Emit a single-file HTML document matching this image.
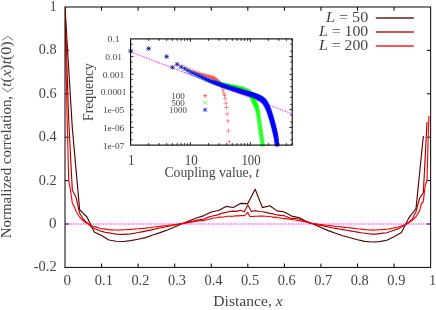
<!DOCTYPE html>
<html><head><meta charset="utf-8"><title>Normalized correlation</title>
<style>
html,body{margin:0;padding:0;background:#fff;}
body{width:436px;height:310px;overflow:hidden;font-family:"Liberation Serif",serif;}
svg{display:block;will-change:transform;}
</style></head><body>
<svg width="436" height="310" viewBox="0 0 436 310">
<defs><filter id="nf" x="0" y="0" width="436" height="310" filterUnits="userSpaceOnUse"><feOffset dx="0" dy="0"/></filter></defs>
<rect x="0" y="0" width="436" height="310" fill="#fff"/>
<path d="M101.56 267.4v-3.8M101.56 7v3.8M138.13 267.4v-3.8M138.13 7v3.8M174.69 267.4v-3.8M174.69 7v3.8M211.26 267.4v-3.8M211.26 7v3.8M247.82 267.4v-3.8M247.82 7v3.8M284.39 267.4v-3.8M284.39 7v3.8M320.95 267.4v-3.8M320.95 7v3.8M357.52 267.4v-3.8M357.52 7v3.8M394.08 267.4v-3.8M394.08 7v3.8M65 50.4h3.8M430.65 50.4h-3.8M65 93.8h3.8M430.65 93.8h-3.8M65 137.2h3.8M430.65 137.2h-3.8M65 180.6h3.8M430.65 180.6h-3.8M65 224h3.8M430.65 224h-3.8" stroke="#000" stroke-width="1" fill="none"/>
<path d="M65.5 224 H430.65" stroke="#ff00ff" stroke-width="1.15" stroke-dasharray="1.3 1.2" fill="none"/>
<clipPath id="mc"><rect x="65" y="7" width="365.65" height="260.4"/></clipPath>
<g clip-path="url(#mc)">
<polyline points="65,7.2 72.31,128 79.63,209.6 86.94,217 94.25,232 101.56,235.6 108.88,240 116.19,241.2 123.5,241.5 130.82,240.6 138.13,239.2 145.44,237.6 152.76,235 160.07,232.6 167.38,230 174.69,227 182.01,223.7 189.32,220.8 196.63,218 203.95,215.6 211.26,212 218.57,210.5 225.89,206.4 233.2,207.5 240.51,203.4 247.82,203.6 255.14,189.2 262.45,207.6 269.76,205.8 277.08,210.9 284.39,212 291.7,216.1 299.02,217.5 306.33,221.4 313.64,224.2 320.95,227.5 328.27,230.6 335.58,233.3 342.89,235.7 350.21,237.8 357.52,239.7 364.83,241.4 372.15,242 379.46,241.6 386.77,240.2 394.08,236.8 401.4,232.6 408.71,218.2 416.02,208.5 423.34,136" fill="none" stroke="#550000" stroke-width="1.15" stroke-linejoin="round" />
<polyline points="65,7.2 68.66,118.67 72.31,190.03 75.97,197.14 79.63,213.04 83.28,219.27 86.94,222.74 90.6,226.2 94.25,228.57 97.91,230.01 101.56,231.43 105.22,232.2 108.88,232.88 112.53,233.48 116.19,234.08 119.85,234.34 123.5,234.39 127.16,234.18 130.82,233.93 134.47,233.27 138.13,232.55 141.79,231.83 145.44,231.11 149.1,230.34 152.76,229.58 156.41,228.81 160.07,228.05 163.73,227.28 167.38,226.52 171.04,225.75 174.69,224.98 178.35,224.22 182.01,223.45 185.66,222.68 189.32,221.91 192.98,221.14 196.63,220.36 200.29,219.64 203.95,219.03 207.6,217.41 211.26,216.26 214.92,215.45 218.57,214.65 222.23,213.08 225.89,212.35 229.54,211.45 233.2,211.17 236.86,211.39 240.51,210.2 244.17,211.75 247.82,204.91 251.48,211.56 255.14,210.65 258.79,211.49 262.45,211.77 266.11,212.36 269.76,213.41 273.42,213.93 277.08,214.93 280.73,215.35 284.39,215.75 288.05,217.25 291.7,218.52 295.36,218.42 299.02,218.95 302.67,220.56 306.33,221.83 309.99,223 313.64,223.79 317.3,224.59 320.95,225.39 324.61,226.18 328.27,226.98 331.92,227.77 335.58,228.43 339.24,229.05 342.89,229.68 346.55,230.3 350.21,230.93 353.86,231.55 357.52,232.18 361.18,232.75 364.83,233.23 368.49,233.71 372.15,234.18 375.8,234.14 379.46,233.66 383.12,233.18 386.77,232.7 390.43,231.56 394.08,230.27 397.74,228.88 401.4,227.08 405.05,225.08 408.71,222.4 412.37,218.83 416.02,211.41 419.68,198 423.34,192.8 426.99,122.13" fill="none" stroke="#aa0000" stroke-width="1.15" stroke-linejoin="round" />
<polyline points="65,7.2 66.83,106.14 68.66,180.24 70.48,189.93 72.31,203.02 74.14,206.39 75.97,211.22 77.8,214 79.63,217.02 81.45,219.04 83.28,220.71 85.11,222.23 86.94,223.26 88.77,224.29 90.6,225.32 92.42,226 94.25,226.56 96.08,227.12 97.91,227.67 99.74,228.23 101.56,228.58 103.39,228.85 105.22,229.11 107.05,229.37 108.88,229.64 110.71,229.83 112.53,229.9 114.36,229.97 116.19,230.05 118.02,230.07 119.85,229.98 121.68,229.89 123.5,229.8 125.33,229.7 127.16,229.61 128.99,229.52 130.82,229.42 132.65,229.28 134.47,229.12 136.3,228.96 138.13,228.8 139.96,228.64 141.79,228.48 143.61,228.32 145.44,228.15 147.27,227.92 149.1,227.7 150.93,227.48 152.76,227.26 154.58,227.03 156.41,226.81 158.24,226.59 160.07,226.37 161.9,226.14 163.73,225.92 165.55,225.7 167.38,225.48 169.21,225.26 171.04,225.03 172.87,224.81 174.69,224.59 176.52,224.37 178.35,224.14 180.18,223.92 182.01,223.7 183.84,223.38 185.66,223.07 187.49,222.75 189.32,222.44 191.15,222.12 192.98,221.81 194.81,221.49 196.63,221.18 198.46,220.86 200.29,220.5 202.12,220.61 203.95,220.41 205.78,219.94 207.6,219.68 209.43,219.25 211.26,218.58 213.09,218.01 214.92,218.05 216.74,217.77 218.57,217.42 220.4,217.12 222.23,217 224.06,216.81 225.89,216.46 227.71,216.27 229.54,216.28 231.37,216.44 233.2,216.2 235.03,215.93 236.86,215.85 238.68,215.87 240.51,215.64 242.34,215.56 244.17,215.66 246,214.47 247.82,212.48 249.65,216.31 251.48,216.45 253.31,216.4 255.14,216.3 256.97,216.23 258.79,215.97 260.62,216.12 262.45,215.97 264.28,216.19 266.11,216.23 267.94,216.49 269.76,216.45 271.59,216.74 273.42,217.37 275.25,217.11 277.08,217.57 278.91,217.8 280.73,218.13 282.56,218.26 284.39,218.61 286.22,218.57 288.05,218.85 289.87,219.2 291.7,219.45 293.53,219.7 295.36,220 297.19,220.53 299.02,220.6 300.84,221.06 302.67,221.34 304.5,221.62 306.33,222.05 308.16,222.52 309.99,223 311.81,223.29 313.64,223.58 315.47,223.87 317.3,224.16 319.13,224.44 320.95,224.64 322.78,224.85 324.61,225.05 326.44,225.26 328.27,225.47 330.1,225.67 331.92,225.88 333.75,226.08 335.58,226.29 337.41,226.49 339.24,226.7 341.07,226.91 342.89,227.11 344.72,227.32 346.55,227.52 348.38,227.73 350.21,227.93 352.04,228.14 353.86,228.35 355.69,228.55 357.52,228.76 359.35,228.96 361.18,229.17 363,229.38 364.83,229.58 366.66,229.71 368.49,229.84 370.32,229.96 372.15,230.09 373.97,230.19 375.8,230.05 377.63,229.92 379.46,229.79 381.29,229.65 383.12,229.52 384.94,229.39 386.77,229.25 388.6,228.97 390.43,228.59 392.26,228.21 394.08,227.82 395.91,227.44 397.74,227.06 399.57,226.54 401.4,225.92 403.23,225.31 405.05,224.69 406.88,224.04 408.71,222.78 410.54,221.52 412.37,220.24 414.2,218.51 416.02,216.76 417.85,213.6 419.68,210.4 421.51,203.49 423.34,201.5 425.17,185.54 426.99,180.42 428.82,116" fill="none" stroke="#ff0000" stroke-width="1.15" stroke-linejoin="round" />
</g>
<rect x="65" y="7" width="365.65" height="260.4" stroke="#000" stroke-width="1" fill="none"/>
<rect x="375.8" y="17" width="38.1" height="2" fill="#550000" fill-opacity="0.66"/>
<rect x="375.8" y="31" width="38.1" height="2" fill="#aa0000" fill-opacity="0.66"/>
<rect x="375.8" y="45" width="38.1" height="2" fill="#ff0000" fill-opacity="0.66"/>
<rect x="130.6" y="38.9" width="161.6" height="106.2" fill="#fff" stroke="none"/>
<path d="M130.6 51.9 L292.2 113.95" stroke="#ff00ff" stroke-width="0.8" stroke-dasharray="1.8 0.9" fill="none"/>
<clipPath id="ic"><rect x="127.6" y="38.9" width="164.6" height="107.7"/></clipPath>
<g clip-path="url(#ic)" fill="none">
<path d="M128.4 51h4.4M130.6 48.8v4.4M146.42 48.6h4.4M148.62 46.4v4.4M164.45 56.6h4.4M166.65 54.4v4.4M170.25 67.3h4.4M172.45 65.1v4.4M174.99 64.3h4.4M177.19 62.1v4.4M179 65.91h4.4M181.2 63.71v4.4M182.47 67.63h4.4M184.67 65.43v4.4M185.53 69.01h4.4M187.73 66.81v4.4M188.27 70.15h4.4M190.47 67.95v4.4M190.75 71.13h4.4M192.95 68.93v4.4M193.02 71.98h4.4M195.22 69.78v4.4M195.1 72.73h4.4M197.3 70.53v4.4M197.02 73.38h4.4M199.22 71.18v4.4M198.82 73.97h4.4M201.02 71.77v4.4M200.5 74.5h4.4M202.7 72.3v4.4M202.07 74.98h4.4M204.27 72.78v4.4M203.56 75.42h4.4M205.76 73.22v4.4M204.96 75.8h4.4M207.16 73.6v4.4M206.3 76.16h4.4M208.5 73.96v4.4M207.57 76.53h4.4M209.77 74.33v4.4M208.78 76.9h4.4M210.98 74.7v4.4M209.93 77.26h4.4M212.13 75.06v4.4M211.04 77.68h4.4M213.24 75.48v4.4M212.1 78.22h4.4M214.3 76.02v4.4M213.12 78.89h4.4M215.32 76.69v4.4M214.1 79.64h4.4M216.3 77.44v4.4M215.05 80.41h4.4M217.25 78.21v4.4M215.96 81.22h4.4M218.16 79.02v4.4M216.84 82.12h4.4M219.04 79.92v4.4M217.69 83.12h4.4M219.89 80.92v4.4M218.52 84.2h4.4M220.72 82v4.4M219.32 85.51h4.4M221.52 83.31v4.4M220.1 87.33h4.4M222.3 85.13v4.4M220.85 90.12h4.4M223.05 87.92v4.4M221.58 92.94h4.4M223.78 90.74v4.4M222.3 95.48h4.4M224.5 93.28v4.4M222.99 98.64h4.4M225.19 96.44v4.4M223.66 103.26h4.4M225.86 101.06v4.4M224.32 107.5h4.4M226.52 105.3v4.4M224.96 114.02h4.4M227.16 111.82v4.4M225.59 120.99h4.4M227.79 118.79v4.4M226.2 130.86h4.4M228.4 128.66v4.4M226.8 141.72h4.4M229 139.52v4.4" stroke="#ff0000" stroke-width="0.42"/>
<path d="M129 49.4l3.2 3.2M129 52.6l3.2 -3.2M147.02 47l3.2 3.2M147.02 50.2l3.2 -3.2M165.05 55l3.2 3.2M165.05 58.2l3.2 -3.2M170.85 65.7l3.2 3.2M170.85 68.9l3.2 -3.2M175.59 62.7l3.2 3.2M175.59 65.9l3.2 -3.2M179.6 65.6l3.2 3.2M179.6 68.8l3.2 -3.2M183.07 67.36l3.2 3.2M183.07 70.56l3.2 -3.2M186.13 68.89l3.2 3.2M186.13 72.09l3.2 -3.2M188.87 70.23l3.2 3.2M188.87 73.43l3.2 -3.2M191.35 71.43l3.2 3.2M191.35 74.63l3.2 -3.2M193.62 72.5l3.2 3.2M193.62 75.7l3.2 -3.2M195.7 73.5l3.2 3.2M195.7 76.7l3.2 -3.2M197.62 74.43l3.2 3.2M197.62 77.63l3.2 -3.2M199.42 75.29l3.2 3.2M199.42 78.49l3.2 -3.2M201.1 76.08l3.2 3.2M201.1 79.28l3.2 -3.2M202.67 76.81l3.2 3.2M202.67 80.01l3.2 -3.2M204.16 77.47l3.2 3.2M204.16 80.67l3.2 -3.2M205.56 78.08l3.2 3.2M205.56 81.28l3.2 -3.2M206.9 78.62l3.2 3.2M206.9 81.82l3.2 -3.2M208.17 79.11l3.2 3.2M208.17 82.31l3.2 -3.2M209.38 79.56l3.2 3.2M209.38 82.76l3.2 -3.2M210.53 79.97l3.2 3.2M210.53 83.17l3.2 -3.2M211.64 80.35l3.2 3.2M211.64 83.55l3.2 -3.2M212.7 80.71l3.2 3.2M212.7 83.91l3.2 -3.2M213.32 80.64l4 4M213.32 84.64l4 -4M214.3 80.95l4 4M214.3 84.95l4 -4M215.25 81.23l4 4M215.25 85.23l4 -4M216.16 81.5l4 4M216.16 85.5l4 -4M217.04 81.74l4 4M217.04 85.74l4 -4M217.89 81.97l4 4M217.89 85.97l4 -4M218.72 82.18l4 4M218.72 86.18l4 -4M219.52 82.38l4 4M219.52 86.38l4 -4M220.3 82.55l4 4M220.3 86.55l4 -4M221.05 82.72l4 4M221.05 86.72l4 -4M221.78 82.88l4 4M221.78 86.88l4 -4M222.5 83.02l4 4M222.5 87.02l4 -4M223.19 83.17l4 4M223.19 87.17l4 -4M223.86 83.31l4 4M223.86 87.31l4 -4M224.52 83.44l4 4M224.52 87.44l4 -4M225.16 83.57l4 4M225.16 87.57l4 -4M225.79 83.71l4 4M225.79 87.71l4 -4M226.4 83.84l4 4M226.4 87.84l4 -4M227 83.97l4 4M227 87.97l4 -4M227.59 84.1l4 4M227.59 88.1l4 -4M228.16 84.24l4 4M228.16 88.24l4 -4M228.72 84.37l4 4M228.72 88.37l4 -4M229.26 84.49l4 4M229.26 88.49l4 -4M229.8 84.61l4 4M229.8 88.61l4 -4M230.33 84.73l4 4M230.33 88.73l4 -4M230.84 84.84l4 4M230.84 88.84l4 -4M231.35 84.95l4 4M231.35 88.95l4 -4M231.84 85.06l4 4M231.84 89.06l4 -4M232.33 85.17l4 4M232.33 89.17l4 -4M232.8 85.27l4 4M232.8 89.27l4 -4M233.27 85.37l4 4M233.27 89.37l4 -4M233.73 85.48l4 4M233.73 89.48l4 -4M234.18 85.58l4 4M234.18 89.58l4 -4M234.63 85.68l4 4M234.63 89.68l4 -4M235.07 85.78l4 4M235.07 89.78l4 -4M235.5 85.89l4 4M235.5 89.89l4 -4M235.92 85.99l4 4M235.92 89.99l4 -4M236.33 86.1l4 4M236.33 90.1l4 -4M236.74 86.2l4 4M236.74 90.2l4 -4M237.15 86.31l4 4M237.15 90.31l4 -4M237.54 86.41l4 4M237.54 90.41l4 -4M237.94 86.52l4 4M237.94 90.52l4 -4M238.32 86.63l4 4M238.32 90.63l4 -4M238.7 86.75l4 4M238.7 90.75l4 -4M239.07 86.86l4 4M239.07 90.86l4 -4M239.44 86.98l4 4M239.44 90.98l4 -4M239.81 87.09l4 4M239.81 91.09l4 -4M240.17 87.21l4 4M240.17 91.21l4 -4M240.52 87.33l4 4M240.52 91.33l4 -4M240.87 87.45l4 4M240.87 91.45l4 -4M241.21 87.58l4 4M241.21 91.58l4 -4M241.55 87.71l4 4M241.55 91.71l4 -4M241.89 87.83l4 4M241.89 91.83l4 -4M242.22 87.97l4 4M242.22 91.97l4 -4M242.55 88.1l4 4M242.55 92.1l4 -4M242.87 88.24l4 4M242.87 92.24l4 -4M243.19 88.38l4 4M243.19 92.38l4 -4M243.5 88.52l4 4M243.5 92.52l4 -4M243.82 88.67l4 4M243.82 92.67l4 -4M244.12 88.83l4 4M244.12 92.83l4 -4M244.43 88.99l4 4M244.43 92.99l4 -4M244.73 89.15l4 4M244.73 93.15l4 -4M245.03 89.33l4 4M245.03 93.33l4 -4M245.32 89.51l4 4M245.32 93.51l4 -4M245.61 89.69l4 4M245.61 93.69l4 -4M245.9 89.88l4 4M245.9 93.88l4 -4M246.18 90.08l4 4M246.18 94.08l4 -4M246.46 90.29l4 4M246.46 94.29l4 -4M246.74 90.5l4 4M246.74 94.5l4 -4M247.02 90.72l4 4M247.02 94.72l4 -4M247.29 90.95l4 4M247.29 94.95l4 -4M247.56 91.19l4 4M247.56 95.19l4 -4M247.82 91.43l4 4M247.82 95.43l4 -4M248.09 91.69l4 4M248.09 95.69l4 -4M248.35 91.99l4 4M248.35 95.99l4 -4M248.61 92.34l4 4M248.61 96.34l4 -4M248.86 92.73l4 4M248.86 96.73l4 -4M249.12 93.15l4 4M249.12 97.15l4 -4M249.37 93.61l4 4M249.37 97.61l4 -4M249.62 94.08l4 4M249.62 98.08l4 -4M249.86 94.57l4 4M249.86 98.57l4 -4M250.11 95.08l4 4M250.11 99.08l4 -4M250.35 95.59l4 4M250.35 99.59l4 -4M250.59 96.1l4 4M250.59 100.1l4 -4M250.83 96.6l4 4M250.83 100.6l4 -4M251.06 97.1l4 4M251.06 101.1l4 -4M251.3 97.59l4 4M251.3 101.59l4 -4M251.53 98.06l4 4M251.53 102.06l4 -4M251.76 98.51l4 4M251.76 102.51l4 -4M251.98 98.96l4 4M251.98 102.96l4 -4M252.21 99.41l4 4M252.21 103.41l4 -4M252.43 99.86l4 4M252.43 103.86l4 -4M252.65 100.31l4 4M252.65 104.31l4 -4M252.87 100.78l4 4M252.87 104.78l4 -4M253.09 101.26l4 4M253.09 105.26l4 -4M253.31 101.75l4 4M253.31 105.75l4 -4M253.52 102.26l4 4M253.52 106.26l4 -4M253.73 102.79l4 4M253.73 106.79l4 -4M253.94 103.34l4 4M253.94 107.34l4 -4M254.15 103.92l4 4M254.15 107.92l4 -4M254.36 104.53l4 4M254.36 108.53l4 -4M254.56 105.16l4 4M254.56 109.16l4 -4M254.77 105.83l4 4M254.77 109.83l4 -4M254.97 106.53l4 4M254.97 110.53l4 -4M255.17 107.28l4 4M255.17 111.28l4 -4M255.37 108.07l4 4M255.37 112.07l4 -4M255.57 108.91l4 4M255.57 112.91l4 -4M255.76 109.81l4 4M255.76 113.81l4 -4M255.96 110.87l4 4M255.96 114.87l4 -4M256.15 112.06l4 4M256.15 116.06l4 -4M256.34 113.32l4 4M256.34 117.32l4 -4M256.54 114.58l4 4M256.54 118.58l4 -4M256.72 115.81l4 4M256.72 119.81l4 -4M256.91 117.07l4 4M256.91 121.07l4 -4M257.1 118.34l4 4M257.1 122.34l4 -4M257.28 119.63l4 4M257.28 123.63l4 -4M257.47 120.92l4 4M257.47 124.92l4 -4M257.65 122.22l4 4M257.65 126.22l4 -4M257.83 123.52l4 4M257.83 127.52l4 -4M258.01 124.81l4 4M258.01 128.81l4 -4M258.19 126.09l4 4M258.19 130.09l4 -4M258.37 127.36l4 4M258.37 131.36l4 -4M258.54 128.6l4 4M258.54 132.6l4 -4M258.72 129.83l4 4M258.72 133.83l4 -4M258.89 131.06l4 4M258.89 135.06l4 -4M259.07 132.27l4 4M259.07 136.27l4 -4M259.24 133.48l4 4M259.24 137.48l4 -4M259.41 134.68l4 4M259.41 138.68l4 -4M259.58 135.87l4 4M259.58 139.87l4 -4M259.75 137.06l4 4M259.75 141.06l4 -4M259.91 138.24l4 4M259.91 142.24l4 -4M260.08 139.41l4 4M260.08 143.41l4 -4M260.24 140.57l4 4M260.24 144.57l4 -4M260.41 141.73l4 4M260.41 145.73l4 -4M260.57 142.88l4 4M260.57 146.88l4 -4M260.73 144.03l4 4M260.73 148.03l4 -4" stroke="#00ff00" stroke-width="0.75"/>
<path d="M128.4 51h4.4M130.6 48.8v4.4M128.6 49l4 4M128.6 53l4 -4M146.42 48.6h4.4M148.62 46.4v4.4M146.62 46.6l4 4M146.62 50.6l4 -4M164.45 56.6h4.4M166.65 54.4v4.4M164.65 54.6l4 4M164.65 58.6l4 -4M170.25 67.3h4.4M172.45 65.1v4.4M170.45 65.3l4 4M170.45 69.3l4 -4M174.99 64.3h4.4M177.19 62.1v4.4M175.19 62.3l4 4M175.19 66.3l4 -4M179 67.18h4.4M181.2 64.98v4.4M179.2 65.18l4 4M179.2 69.18l4 -4M182.47 68.74h4.4M184.67 66.54v4.4M182.67 66.74l4 4M182.67 70.74l4 -4M185.53 70.59h4.4M187.73 68.39v4.4M185.73 68.59l4 4M185.73 72.59l4 -4M188.27 72.13h4.4M190.47 69.93v4.4M188.47 70.13l4 4M188.47 74.13l4 -4M190.75 73.17h4.4M192.95 70.97v4.4M190.95 71.17l4 4M190.95 75.17l4 -4M193.02 74.09h4.4M195.22 71.89v4.4M193.22 72.09l4 4M193.22 76.09l4 -4M195.1 75.02h4.4M197.3 72.82v4.4M195.3 73.02l4 4M195.3 77.02l4 -4M197.02 75.92h4.4M199.22 73.72v4.4M197.22 73.92l4 4M197.22 77.92l4 -4M198.82 76.76h4.4M201.02 74.56v4.4M199.02 74.76l4 4M199.02 78.76l4 -4M200.5 77.55h4.4M202.7 75.35v4.4M200.7 75.55l4 4M200.7 79.55l4 -4M202.07 78.29h4.4M204.27 76.09v4.4M202.27 76.29l4 4M202.27 80.29l4 -4M203.56 78.98h4.4M205.76 76.78v4.4M203.76 76.98l4 4M203.76 80.98l4 -4M204.96 79.6h4.4M207.16 77.4v4.4M205.16 77.6l4 4M205.16 81.6l4 -4M206.3 80.18h4.4M208.5 77.98v4.4M206.5 78.18l4 4M206.5 82.18l4 -4M207.57 80.71h4.4M209.77 78.51v4.4M207.77 78.71l4 4M207.77 82.71l4 -4M208.78 81.19h4.4M210.98 78.99v4.4M208.98 79.19l4 4M208.98 83.19l4 -4M209.93 81.64h4.4M212.13 79.44v4.4M210.13 79.64l4 4M210.13 83.64l4 -4M211.04 82.06h4.4M213.24 79.86v4.4M211.24 80.06l4 4M211.24 84.06l4 -4M212.1 82.46h4.4M214.3 80.26v4.4M212.3 80.46l4 4M212.3 84.46l4 -4M213.12 82.84h4.4M215.32 80.64v4.4M213.32 80.84l4 4M213.32 84.84l4 -4M214.1 83.2h4.4M216.3 81v4.4M214.3 81.2l4 4M214.3 85.2l4 -4M215.05 83.55h4.4M217.25 81.35v4.4M215.25 81.55l4 4M215.25 85.55l4 -4M215.96 83.87h4.4M218.16 81.67v4.4M216.16 81.87l4 4M216.16 85.87l4 -4M216.84 84.19h4.4M219.04 81.99v4.4M217.04 82.19l4 4M217.04 86.19l4 -4M217.69 84.48h4.4M219.89 82.28v4.4M217.89 82.48l4 4M217.89 86.48l4 -4M218.52 84.77h4.4M220.72 82.57v4.4M218.72 82.77l4 4M218.72 86.77l4 -4M219.32 85.05h4.4M221.52 82.85v4.4M219.52 83.05l4 4M219.52 87.05l4 -4M220.1 85.32h4.4M222.3 83.12v4.4M220.3 83.32l4 4M220.3 87.32l4 -4M220.85 85.57h4.4M223.05 83.37v4.4M221.05 83.57l4 4M221.05 87.57l4 -4M221.58 85.82h4.4M223.78 83.62v4.4M221.78 83.82l4 4M221.78 87.82l4 -4M222.3 86.06h4.4M224.5 83.86v4.4M222.5 84.06l4 4M222.5 88.06l4 -4M222.99 86.3h4.4M225.19 84.1v4.4M223.19 84.3l4 4M223.19 88.3l4 -4M223.66 86.52h4.4M225.86 84.32v4.4M223.86 84.52l4 4M223.86 88.52l4 -4M224.32 86.74h4.4M226.52 84.54v4.4M224.52 84.74l4 4M224.52 88.74l4 -4M224.96 86.96h4.4M227.16 84.76v4.4M225.16 84.96l4 4M225.16 88.96l4 -4M225.59 87.17h4.4M227.79 84.97v4.4M225.79 85.17l4 4M225.79 89.17l4 -4M226.2 87.37h4.4M228.4 85.17v4.4M226.4 85.37l4 4M226.4 89.37l4 -4M226.8 87.57h4.4M229 85.37v4.4M227 85.57l4 4M227 89.57l4 -4M227.39 87.76h4.4M229.59 85.56v4.4M227.59 85.76l4 4M227.59 89.76l4 -4M227.96 87.95h4.4M230.16 85.75v4.4M228.16 85.95l4 4M228.16 89.95l4 -4M228.52 88.14h4.4M230.72 85.94v4.4M228.72 86.14l4 4M228.72 90.14l4 -4M229.06 88.31h4.4M231.26 86.11v4.4M229.26 86.31l4 4M229.26 90.31l4 -4M229.6 88.49h4.4M231.8 86.29v4.4M229.8 86.49l4 4M229.8 90.49l4 -4M230.13 88.66h4.4M232.33 86.46v4.4M230.33 86.66l4 4M230.33 90.66l4 -4M230.64 88.82h4.4M232.84 86.62v4.4M230.84 86.82l4 4M230.84 90.82l4 -4M231.15 88.98h4.4M233.35 86.78v4.4M231.35 86.98l4 4M231.35 90.98l4 -4M231.64 89.13h4.4M233.84 86.93v4.4M231.84 87.13l4 4M231.84 91.13l4 -4M232.13 89.29h4.4M234.33 87.09v4.4M232.33 87.29l4 4M232.33 91.29l4 -4M232.6 89.43h4.4M234.8 87.23v4.4M232.8 87.43l4 4M232.8 91.43l4 -4M233.07 89.58h4.4M235.27 87.38v4.4M233.27 87.58l4 4M233.27 91.58l4 -4M233.53 89.72h4.4M235.73 87.52v4.4M233.73 87.72l4 4M233.73 91.72l4 -4M233.98 89.86h4.4M236.18 87.66v4.4M234.18 87.86l4 4M234.18 91.86l4 -4M234.43 90h4.4M236.63 87.8v4.4M234.63 88l4 4M234.63 92l4 -4M234.87 90.13h4.4M237.07 87.93v4.4M235.07 88.13l4 4M235.07 92.13l4 -4M235.3 90.26h4.4M237.5 88.06v4.4M235.5 88.26l4 4M235.5 92.26l4 -4M235.72 90.39h4.4M237.92 88.19v4.4M235.92 88.39l4 4M235.92 92.39l4 -4M236.13 90.52h4.4M238.33 88.32v4.4M236.33 88.52l4 4M236.33 92.52l4 -4M236.54 90.64h4.4M238.74 88.44v4.4M236.74 88.64l4 4M236.74 92.64l4 -4M236.95 90.77h4.4M239.15 88.57v4.4M237.15 88.77l4 4M237.15 92.77l4 -4M237.34 90.89h4.4M239.54 88.69v4.4M237.54 88.89l4 4M237.54 92.89l4 -4M237.74 91.01h4.4M239.94 88.81v4.4M237.94 89.01l4 4M237.94 93.01l4 -4M238.12 91.13h4.4M240.32 88.93v4.4M238.32 89.13l4 4M238.32 93.13l4 -4M238.5 91.24h4.4M240.7 89.04v4.4M238.7 89.24l4 4M238.7 93.24l4 -4M238.87 91.36h4.4M241.07 89.16v4.4M239.07 89.36l4 4M239.07 93.36l4 -4M239.24 91.47h4.4M241.44 89.27v4.4M239.44 89.47l4 4M239.44 93.47l4 -4M239.61 91.59h4.4M241.81 89.39v4.4M239.81 89.59l4 4M239.81 93.59l4 -4M239.97 91.7h4.4M242.17 89.5v4.4M240.17 89.7l4 4M240.17 93.7l4 -4M240.32 91.81h4.4M242.52 89.61v4.4M240.52 89.81l4 4M240.52 93.81l4 -4M240.67 91.92h4.4M242.87 89.72v4.4M240.87 89.92l4 4M240.87 93.92l4 -4M241.01 92.03h4.4M243.21 89.83v4.4M241.21 90.03l4 4M241.21 94.03l4 -4M241.35 92.14h4.4M243.55 89.94v4.4M241.55 90.14l4 4M241.55 94.14l4 -4M241.69 92.24h4.4M243.89 90.04v4.4M241.89 90.24l4 4M241.89 94.24l4 -4M242.02 92.35h4.4M244.22 90.15v4.4M242.22 90.35l4 4M242.22 94.35l4 -4M242.35 92.45h4.4M244.55 90.25v4.4M242.55 90.45l4 4M242.55 94.45l4 -4M242.67 92.56h4.4M244.87 90.36v4.4M242.87 90.56l4 4M242.87 94.56l4 -4M242.99 92.66h4.4M245.19 90.46v4.4M243.19 90.66l4 4M243.19 94.66l4 -4M243.3 92.76h4.4M245.5 90.56v4.4M243.5 90.76l4 4M243.5 94.76l4 -4M243.62 92.86h4.4M245.82 90.66v4.4M243.82 90.86l4 4M243.82 94.86l4 -4M243.92 92.95h4.4M246.12 90.75v4.4M244.12 90.95l4 4M244.12 94.95l4 -4M244.23 93.05h4.4M246.43 90.85v4.4M244.43 91.05l4 4M244.43 95.05l4 -4M244.53 93.14h4.4M246.73 90.94v4.4M244.73 91.14l4 4M244.73 95.14l4 -4M244.83 93.23h4.4M247.03 91.03v4.4M245.03 91.23l4 4M245.03 95.23l4 -4M245.12 93.31h4.4M247.32 91.11v4.4M245.32 91.31l4 4M245.32 95.31l4 -4M245.41 93.4h4.4M247.61 91.2v4.4M245.61 91.4l4 4M245.61 95.4l4 -4M245.7 93.49h4.4M247.9 91.29v4.4M245.9 91.49l4 4M245.9 95.49l4 -4M245.98 93.57h4.4M248.18 91.37v4.4M246.18 91.57l4 4M246.18 95.57l4 -4M246.26 93.65h4.4M248.46 91.45v4.4M246.46 91.65l4 4M246.46 95.65l4 -4M246.54 93.73h4.4M248.74 91.53v4.4M246.74 91.73l4 4M246.74 95.73l4 -4M246.82 93.81h4.4M249.02 91.61v4.4M247.02 91.81l4 4M247.02 95.81l4 -4M247.09 93.89h4.4M249.29 91.69v4.4M247.29 91.89l4 4M247.29 95.89l4 -4M247.36 93.97h4.4M249.56 91.77v4.4M247.56 91.97l4 4M247.56 95.97l4 -4M247.62 94.05h4.4M249.82 91.85v4.4M247.82 92.05l4 4M247.82 96.05l4 -4M247.89 94.13h4.4M250.09 91.93v4.4M248.09 92.13l4 4M248.09 96.13l4 -4M248.15 94.2h4.4M250.35 92v4.4M248.35 92.2l4 4M248.35 96.2l4 -4M248.41 94.28h4.4M250.61 92.08v4.4M248.61 92.28l4 4M248.61 96.28l4 -4M248.66 94.36h4.4M250.86 92.16v4.4M248.86 92.36l4 4M248.86 96.36l4 -4M248.92 94.43h4.4M251.12 92.23v4.4M249.12 92.43l4 4M249.12 96.43l4 -4M249.17 94.51h4.4M251.37 92.31v4.4M249.37 92.51l4 4M249.37 96.51l4 -4M249.42 94.59h4.4M251.62 92.39v4.4M249.62 92.59l4 4M249.62 96.59l4 -4M249.66 94.66h4.4M251.86 92.46v4.4M249.86 92.66l4 4M249.86 96.66l4 -4M249.91 94.74h4.4M252.11 92.54v4.4M250.11 92.74l4 4M250.11 96.74l4 -4M250.15 94.82h4.4M252.35 92.62v4.4M250.35 92.82l4 4M250.35 96.82l4 -4M250.39 94.9h4.4M252.59 92.7v4.4M250.59 92.9l4 4M250.59 96.9l4 -4M250.63 94.97h4.4M252.83 92.77v4.4M250.83 92.97l4 4M250.83 96.97l4 -4M250.86 95.05h4.4M253.06 92.85v4.4M251.06 93.05l4 4M251.06 97.05l4 -4M251.1 95.13h4.4M253.3 92.93v4.4M251.3 93.13l4 4M251.3 97.13l4 -4M251.33 95.21h4.4M253.53 93.01v4.4M251.53 93.21l4 4M251.53 97.21l4 -4M251.56 95.29h4.4M253.76 93.09v4.4M251.76 93.29l4 4M251.76 97.29l4 -4M251.78 95.37h4.4M253.98 93.17v4.4M251.98 93.37l4 4M251.98 97.37l4 -4M252.01 95.45h4.4M254.21 93.25v4.4M252.21 93.45l4 4M252.21 97.45l4 -4M252.23 95.53h4.4M254.43 93.33v4.4M252.43 93.53l4 4M252.43 97.53l4 -4M252.45 95.61h4.4M254.65 93.41v4.4M252.65 93.61l4 4M252.65 97.61l4 -4M252.67 95.69h4.4M254.87 93.49v4.4M252.87 93.69l4 4M252.87 97.69l4 -4M252.89 95.78h4.4M255.09 93.58v4.4M253.09 93.78l4 4M253.09 97.78l4 -4M253.11 95.86h4.4M255.31 93.66v4.4M253.31 93.86l4 4M253.31 97.86l4 -4M253.32 95.94h4.4M255.52 93.74v4.4M253.52 93.94l4 4M253.52 97.94l4 -4M253.53 96.03h4.4M255.73 93.83v4.4M253.73 94.03l4 4M253.73 98.03l4 -4M253.74 96.12h4.4M255.94 93.92v4.4M253.94 94.12l4 4M253.94 98.12l4 -4M253.95 96.2h4.4M256.15 94v4.4M254.15 94.2l4 4M254.15 98.2l4 -4M254.16 96.29h4.4M256.36 94.09v4.4M254.36 94.29l4 4M254.36 98.29l4 -4M254.36 96.38h4.4M256.56 94.18v4.4M254.56 94.38l4 4M254.56 98.38l4 -4M254.57 96.47h4.4M256.77 94.27v4.4M254.77 94.47l4 4M254.77 98.47l4 -4M254.77 96.56h4.4M256.97 94.36v4.4M254.97 94.56l4 4M254.97 98.56l4 -4M254.97 96.65h4.4M257.17 94.45v4.4M255.17 94.65l4 4M255.17 98.65l4 -4M255.17 96.74h4.4M257.37 94.54v4.4M255.37 94.74l4 4M255.37 98.74l4 -4M255.37 96.83h4.4M257.57 94.63v4.4M255.57 94.83l4 4M255.57 98.83l4 -4M255.56 96.93h4.4M257.76 94.73v4.4M255.76 94.93l4 4M255.76 98.93l4 -4M255.76 97.02h4.4M257.96 94.82v4.4M255.96 95.02l4 4M255.96 99.02l4 -4M255.95 97.11h4.4M258.15 94.91v4.4M256.15 95.11l4 4M256.15 99.11l4 -4M256.14 97.21h4.4M258.34 95.01v4.4M256.34 95.21l4 4M256.34 99.21l4 -4M256.34 97.31h4.4M258.54 95.11v4.4M256.54 95.31l4 4M256.54 99.31l4 -4M256.52 97.4h4.4M258.72 95.2v4.4M256.72 95.4l4 4M256.72 99.4l4 -4M256.71 97.5h4.4M258.91 95.3v4.4M256.91 95.5l4 4M256.91 99.5l4 -4M256.9 97.6h4.4M259.1 95.4v4.4M257.1 95.6l4 4M257.1 99.6l4 -4M257.08 97.71h4.4M259.28 95.51v4.4M257.28 95.71l4 4M257.28 99.71l4 -4M257.27 97.81h4.4M259.47 95.61v4.4M257.47 95.81l4 4M257.47 99.81l4 -4M257.45 97.91h4.4M259.65 95.71v4.4M257.65 95.91l4 4M257.65 99.91l4 -4M257.63 98.02h4.4M259.83 95.82v4.4M257.83 96.02l4 4M257.83 100.02l4 -4M257.81 98.13h4.4M260.01 95.93v4.4M258.01 96.13l4 4M258.01 100.13l4 -4M257.99 98.24h4.4M260.19 96.04v4.4M258.19 96.24l4 4M258.19 100.24l4 -4M258.17 98.35h4.4M260.37 96.15v4.4M258.37 96.35l4 4M258.37 100.35l4 -4M258.34 98.46h4.4M260.54 96.26v4.4M258.54 96.46l4 4M258.54 100.46l4 -4M258.52 98.57h4.4M260.72 96.37v4.4M258.72 96.57l4 4M258.72 100.57l4 -4M258.69 98.69h4.4M260.89 96.49v4.4M258.89 96.69l4 4M258.89 100.69l4 -4M258.87 98.81h4.4M261.07 96.61v4.4M259.07 96.81l4 4M259.07 100.81l4 -4M259.04 98.93h4.4M261.24 96.73v4.4M259.24 96.93l4 4M259.24 100.93l4 -4M259.21 99.05h4.4M261.41 96.85v4.4M259.41 97.05l4 4M259.41 101.05l4 -4M259.38 99.17h4.4M261.58 96.97v4.4M259.58 97.17l4 4M259.58 101.17l4 -4M259.55 99.3h4.4M261.75 97.1v4.4M259.75 97.3l4 4M259.75 101.3l4 -4M259.71 99.43h4.4M261.91 97.23v4.4M259.91 97.43l4 4M259.91 101.43l4 -4M259.88 99.56h4.4M262.08 97.36v4.4M260.08 97.56l4 4M260.08 101.56l4 -4M260.04 99.69h4.4M262.24 97.49v4.4M260.24 97.69l4 4M260.24 101.69l4 -4M260.21 99.82h4.4M262.41 97.62v4.4M260.41 97.82l4 4M260.41 101.82l4 -4M260.37 99.96h4.4M262.57 97.76v4.4M260.57 97.96l4 4M260.57 101.96l4 -4M260.53 100.1h4.4M262.73 97.9v4.4M260.73 98.1l4 4M260.73 102.1l4 -4M260.69 100.24h4.4M262.89 98.04v4.4M260.89 98.24l4 4M260.89 102.24l4 -4M260.85 100.38h4.4M263.05 98.18v4.4M261.05 98.38l4 4M261.05 102.38l4 -4M261.01 100.53h4.4M263.21 98.33v4.4M261.21 98.53l4 4M261.21 102.53l4 -4M261.17 100.68h4.4M263.37 98.48v4.4M261.37 98.68l4 4M261.37 102.68l4 -4M261.33 100.83h4.4M263.53 98.63v4.4M261.53 98.83l4 4M261.53 102.83l4 -4M261.48 100.98h4.4M263.68 98.78v4.4M261.68 98.98l4 4M261.68 102.98l4 -4M261.64 101.14h4.4M263.84 98.94v4.4M261.84 99.14l4 4M261.84 103.14l4 -4M261.79 101.29h4.4M263.99 99.09v4.4M261.99 99.29l4 4M261.99 103.29l4 -4M261.95 101.46h4.4M264.15 99.26v4.4M262.15 99.46l4 4M262.15 103.46l4 -4M262.1 101.63h4.4M264.3 99.43v4.4M262.3 99.63l4 4M262.3 103.63l4 -4M262.25 101.81h4.4M264.45 99.61v4.4M262.45 99.81l4 4M262.45 103.81l4 -4M262.4 102.01h4.4M264.6 99.81v4.4M262.6 100.01l4 4M262.6 104.01l4 -4M262.55 102.21h4.4M264.75 100.01v4.4M262.75 100.21l4 4M262.75 104.21l4 -4M262.7 102.41h4.4M264.9 100.21v4.4M262.9 100.41l4 4M262.9 104.41l4 -4M262.85 102.63h4.4M265.05 100.43v4.4M263.05 100.63l4 4M263.05 104.63l4 -4M263 102.85h4.4M265.2 100.65v4.4M263.2 100.85l4 4M263.2 104.85l4 -4M263.14 103.08h4.4M265.34 100.88v4.4M263.34 101.08l4 4M263.34 105.08l4 -4M263.29 103.32h4.4M265.49 101.12v4.4M263.49 101.32l4 4M263.49 105.32l4 -4M263.43 103.56h4.4M265.63 101.36v4.4M263.63 101.56l4 4M263.63 105.56l4 -4M263.58 103.81h4.4M265.78 101.61v4.4M263.78 101.81l4 4M263.78 105.81l4 -4M263.72 104.07h4.4M265.92 101.87v4.4M263.92 102.07l4 4M263.92 106.07l4 -4M263.86 104.33h4.4M266.06 102.13v4.4M264.06 102.33l4 4M264.06 106.33l4 -4M264.01 104.59h4.4M266.21 102.39v4.4M264.21 102.59l4 4M264.21 106.59l4 -4M264.15 104.86h4.4M266.35 102.66v4.4M264.35 102.86l4 4M264.35 106.86l4 -4M264.29 105.13h4.4M266.49 102.93v4.4M264.49 103.13l4 4M264.49 107.13l4 -4M264.43 105.41h4.4M266.63 103.21v4.4M264.63 103.41l4 4M264.63 107.41l4 -4M264.56 105.69h4.4M266.76 103.49v4.4M264.76 103.69l4 4M264.76 107.69l4 -4M264.7 105.97h4.4M266.9 103.77v4.4M264.9 103.97l4 4M264.9 107.97l4 -4M264.84 106.25h4.4M267.04 104.05v4.4M265.04 104.25l4 4M265.04 108.25l4 -4M264.98 106.54h4.4M267.18 104.34v4.4M265.18 104.54l4 4M265.18 108.54l4 -4M265.11 106.83h4.4M267.31 104.63v4.4M265.31 104.83l4 4M265.31 108.83l4 -4M265.25 107.12h4.4M267.45 104.92v4.4M265.45 105.12l4 4M265.45 109.12l4 -4M265.38 107.42h4.4M267.58 105.22v4.4M265.58 105.42l4 4M265.58 109.42l4 -4M265.52 107.71h4.4M267.72 105.51v4.4M265.72 105.71l4 4M265.72 109.71l4 -4M265.65 108.01h4.4M267.85 105.81v4.4M265.85 106.01l4 4M265.85 110.01l4 -4M265.78 108.31h4.4M267.98 106.11v4.4M265.98 106.31l4 4M265.98 110.31l4 -4M265.91 108.61h4.4M268.11 106.41v4.4M266.11 106.61l4 4M266.11 110.61l4 -4M266.04 108.91h4.4M268.24 106.71v4.4M266.24 106.91l4 4M266.24 110.91l4 -4M266.17 109.21h4.4M268.37 107.01v4.4M266.37 107.21l4 4M266.37 111.21l4 -4M266.3 109.51h4.4M268.5 107.31v4.4M266.5 107.51l4 4M266.5 111.51l4 -4M266.43 109.81h4.4M268.63 107.61v4.4M266.63 107.81l4 4M266.63 111.81l4 -4M266.56 110.13h4.4M268.76 107.93v4.4M266.76 108.13l4 4M266.76 112.13l4 -4M266.69 110.46h4.4M268.89 108.26v4.4M266.89 108.46l4 4M266.89 112.46l4 -4M266.82 110.8h4.4M269.02 108.6v4.4M267.02 108.8l4 4M267.02 112.8l4 -4M266.94 111.15h4.4M269.14 108.95v4.4M267.14 109.15l4 4M267.14 113.15l4 -4M267.07 111.51h4.4M269.27 109.31v4.4M267.27 109.51l4 4M267.27 113.51l4 -4M267.19 111.87h4.4M269.39 109.67v4.4M267.39 109.87l4 4M267.39 113.87l4 -4M267.32 112.24h4.4M269.52 110.04v4.4M267.52 110.24l4 4M267.52 114.24l4 -4M267.44 112.62h4.4M269.64 110.42v4.4M267.64 110.62l4 4M267.64 114.62l4 -4M267.57 113h4.4M269.77 110.8v4.4M267.77 111l4 4M267.77 115l4 -4M267.69 113.38h4.4M269.89 111.18v4.4M267.89 111.38l4 4M267.89 115.38l4 -4M267.81 113.77h4.4M270.01 111.57v4.4M268.01 111.77l4 4M268.01 115.77l4 -4M267.93 114.16h4.4M270.13 111.96v4.4M268.13 112.16l4 4M268.13 116.16l4 -4M268.05 114.55h4.4M270.25 112.35v4.4M268.25 112.55l4 4M268.25 116.55l4 -4M268.17 114.94h4.4M270.37 112.74v4.4M268.37 112.94l4 4M268.37 116.94l4 -4M268.29 115.34h4.4M270.49 113.14v4.4M268.49 113.34l4 4M268.49 117.34l4 -4M268.41 115.73h4.4M270.61 113.53v4.4M268.61 113.73l4 4M268.61 117.73l4 -4M268.53 116.12h4.4M270.73 113.92v4.4M268.73 114.12l4 4M268.73 118.12l4 -4M268.65 116.51h4.4M270.85 114.31v4.4M268.85 114.51l4 4M268.85 118.51l4 -4M268.77 116.9h4.4M270.97 114.7v4.4M268.97 114.9l4 4M268.97 118.9l4 -4M268.89 117.29h4.4M271.09 115.09v4.4M269.09 115.29l4 4M269.09 119.29l4 -4M269 117.68h4.4M271.2 115.48v4.4M269.2 115.68l4 4M269.2 119.68l4 -4M269.12 118.07h4.4M271.32 115.87v4.4M269.32 116.07l4 4M269.32 120.07l4 -4M269.24 118.46h4.4M271.44 116.26v4.4M269.44 116.46l4 4M269.44 120.46l4 -4M269.35 118.85h4.4M271.55 116.65v4.4M269.55 116.85l4 4M269.55 120.85l4 -4M269.47 119.25h4.4M271.67 117.05v4.4M269.67 117.25l4 4M269.67 121.25l4 -4M269.58 119.64h4.4M271.78 117.44v4.4M269.78 117.64l4 4M269.78 121.64l4 -4M269.69 120.04h4.4M271.89 117.84v4.4M269.89 118.04l4 4M269.89 122.04l4 -4M269.81 120.44h4.4M272.01 118.24v4.4M270.01 118.44l4 4M270.01 122.44l4 -4M269.92 120.84h4.4M272.12 118.64v4.4M270.12 118.84l4 4M270.12 122.84l4 -4M270.03 121.24h4.4M272.23 119.04v4.4M270.23 119.24l4 4M270.23 123.24l4 -4M270.14 121.64h4.4M272.34 119.44v4.4M270.34 119.64l4 4M270.34 123.64l4 -4M270.26 122.05h4.4M272.46 119.85v4.4M270.46 120.05l4 4M270.46 124.05l4 -4M270.37 122.45h4.4M272.57 120.25v4.4M270.57 120.45l4 4M270.57 124.45l4 -4M270.48 122.86h4.4M272.68 120.66v4.4M270.68 120.86l4 4M270.68 124.86l4 -4M270.59 123.27h4.4M272.79 121.07v4.4M270.79 121.27l4 4M270.79 125.27l4 -4M270.7 123.68h4.4M272.9 121.48v4.4M270.9 121.68l4 4M270.9 125.68l4 -4M270.81 124.09h4.4M273.01 121.89v4.4M271.01 122.09l4 4M271.01 126.09l4 -4M270.91 124.51h4.4M273.11 122.31v4.4M271.11 122.51l4 4M271.11 126.51l4 -4M271.02 124.92h4.4M273.22 122.72v4.4M271.22 122.92l4 4M271.22 126.92l4 -4M271.13 125.34h4.4M273.33 123.14v4.4M271.33 123.34l4 4M271.33 127.34l4 -4M271.24 125.76h4.4M273.44 123.56v4.4M271.44 123.76l4 4M271.44 127.76l4 -4M271.34 126.18h4.4M273.54 123.98v4.4M271.54 124.18l4 4M271.54 128.18l4 -4M271.45 126.6h4.4M273.65 124.4v4.4M271.65 124.6l4 4M271.65 128.6l4 -4M271.56 127.02h4.4M273.76 124.82v4.4M271.76 125.02l4 4M271.76 129.02l4 -4M271.66 127.44h4.4M273.86 125.24v4.4M271.86 125.44l4 4M271.86 129.44l4 -4M271.77 127.87h4.4M273.97 125.67v4.4M271.97 125.87l4 4M271.97 129.87l4 -4M271.87 128.29h4.4M274.07 126.09v4.4M272.07 126.29l4 4M272.07 130.29l4 -4M271.98 128.71h4.4M274.18 126.51v4.4M272.18 126.71l4 4M272.18 130.71l4 -4M272.08 129.12h4.4M274.28 126.92v4.4M272.28 127.12l4 4M272.28 131.12l4 -4M272.18 129.53h4.4M274.38 127.33v4.4M272.38 127.53l4 4M272.38 131.53l4 -4M272.29 129.94h4.4M274.49 127.74v4.4M272.49 127.94l4 4M272.49 131.94l4 -4M272.39 130.35h4.4M274.59 128.15v4.4M272.59 128.35l4 4M272.59 132.35l4 -4M272.49 130.77h4.4M274.69 128.57v4.4M272.69 128.77l4 4M272.69 132.77l4 -4M272.59 131.18h4.4M274.79 128.98v4.4M272.79 129.18l4 4M272.79 133.18l4 -4M272.69 131.6h4.4M274.89 129.4v4.4M272.89 129.6l4 4M272.89 133.6l4 -4M272.79 132.03h4.4M274.99 129.83v4.4M272.99 130.03l4 4M272.99 134.03l4 -4M272.9 132.46h4.4M275.1 130.26v4.4M273.1 130.46l4 4M273.1 134.46l4 -4M273 132.9h4.4M275.2 130.7v4.4M273.2 130.9l4 4M273.2 134.9l4 -4M273.1 133.36h4.4M275.3 131.16v4.4M273.3 131.36l4 4M273.3 135.36l4 -4M273.2 133.82h4.4M275.4 131.62v4.4M273.4 131.82l4 4M273.4 135.82l4 -4M273.29 134.29h4.4M275.49 132.09v4.4M273.49 132.29l4 4M273.49 136.29l4 -4M273.39 134.78h4.4M275.59 132.58v4.4M273.59 132.78l4 4M273.59 136.78l4 -4M273.49 135.29h4.4M275.69 133.09v4.4M273.69 133.29l4 4M273.69 137.29l4 -4M273.59 135.81h4.4M275.79 133.61v4.4M273.79 133.81l4 4M273.79 137.81l4 -4M273.69 136.35h4.4M275.89 134.15v4.4M273.89 134.35l4 4M273.89 138.35l4 -4M273.78 136.91h4.4M275.98 134.71v4.4M273.98 134.91l4 4M273.98 138.91l4 -4M273.88 137.49h4.4M276.08 135.29v4.4M274.08 135.49l4 4M274.08 139.49l4 -4M273.98 138.11h4.4M276.18 135.91v4.4M274.18 136.11l4 4M274.18 140.11l4 -4M274.07 138.77h4.4M276.27 136.57v4.4M274.27 136.77l4 4M274.27 140.77l4 -4M274.17 139.46h4.4M276.37 137.26v4.4M274.37 137.46l4 4M274.37 141.46l4 -4M274.26 140.18h4.4M276.46 137.98v4.4M274.46 138.18l4 4M274.46 142.18l4 -4M274.36 140.93h4.4M276.56 138.73v4.4M274.56 138.93l4 4M274.56 142.93l4 -4M274.45 141.7h4.4M276.65 139.5v4.4M274.65 139.7l4 4M274.65 143.7l4 -4M274.55 142.49h4.4M276.75 140.29v4.4M274.75 140.49l4 4M274.75 144.49l4 -4M274.64 143.29h4.4M276.84 141.09v4.4M274.84 141.29l4 4M274.84 145.29l4 -4M274.74 144.12h4.4M276.94 141.92v4.4M274.94 142.12l4 4M274.94 146.12l4 -4M274.83 144.95h4.4M277.03 142.75v4.4M275.03 142.95l4 4M275.03 146.95l4 -4M274.92 145.79h4.4M277.12 143.59v4.4M275.12 143.79l4 4M275.12 147.79l4 -4" stroke="#0000ff" stroke-width="0.6"/>
</g>
<g fill="none" stroke-width="0.6">
<path d="M202.9 95.7h4.4M205.1 93.5v4.4" stroke="#ff0000"/>
<path d="M203.1 100.7l4 4M203.1 104.7l4 -4" stroke="#00ff00"/>
<path d="M202.9 109.8h4.4M205.1 107.6v4.4M203.1 107.8l4 4M203.1 111.8l4 -4" stroke="#0000ff"/>
</g>
<g stroke="#000" fill="none">
<rect x="130.6" y="38.9" width="161.6" height="106.2" stroke-width="1.1"/>
<path d="M148.62 145.1v-2M148.62 38.9v2M159.17 145.1v-2M159.17 38.9v2M166.65 145.1v-2M166.65 38.9v2M172.45 145.1v-2M172.45 38.9v2M177.19 145.1v-2M177.19 38.9v2M181.2 145.1v-2M181.2 38.9v2M184.67 145.1v-2M184.67 38.9v2M187.73 145.1v-2M187.73 38.9v2M190.47 145.1v-3M190.47 38.9v3M208.5 145.1v-2M208.5 38.9v2M219.04 145.1v-2M219.04 38.9v2M226.52 145.1v-2M226.52 38.9v2M232.33 145.1v-2M232.33 38.9v2M237.07 145.1v-2M237.07 38.9v2M241.07 145.1v-2M241.07 38.9v2M244.55 145.1v-2M244.55 38.9v2M247.61 145.1v-2M247.61 38.9v2M250.35 145.1v-3M250.35 38.9v3M268.37 145.1v-2M268.37 38.9v2M278.92 145.1v-2M278.92 38.9v2M286.4 145.1v-2M286.4 38.9v2M292.2 145.1v-2M292.2 38.9v2M130.6 51.27h2M292.2 51.27h-2M130.6 44.23h2M292.2 44.23h-2M130.6 56.6h3M292.2 56.6h-3M130.6 68.97h2M292.2 68.97h-2M130.6 61.93h2M292.2 61.93h-2M130.6 74.3h3M292.2 74.3h-3M130.6 86.67h2M292.2 86.67h-2M130.6 79.63h2M292.2 79.63h-2M130.6 92h3M292.2 92h-3M130.6 104.37h2M292.2 104.37h-2M130.6 97.33h2M292.2 97.33h-2M130.6 109.7h3M292.2 109.7h-3M130.6 122.07h2M292.2 122.07h-2M130.6 115.03h2M292.2 115.03h-2M130.6 127.4h3M292.2 127.4h-3M130.6 139.77h2M292.2 139.77h-2M130.6 132.73h2M292.2 132.73h-2" stroke-width="0.8"/>
</g>
<g font-family="'Liberation Serif', serif" fill="#444444" filter="url(#nf)">
<text font-size="13.6" text-anchor="end" x="56.6" y="11.05">1</text>
<text font-size="13.6" text-anchor="end" textLength="17.8" lengthAdjust="spacingAndGlyphs" x="56.6" y="54.45">0.8</text>
<text font-size="13.6" text-anchor="end" textLength="17.8" lengthAdjust="spacingAndGlyphs" x="56.6" y="97.85">0.6</text>
<text font-size="13.6" text-anchor="end" textLength="17.8" lengthAdjust="spacingAndGlyphs" x="56.6" y="141.25">0.4</text>
<text font-size="13.6" text-anchor="end" textLength="17.8" lengthAdjust="spacingAndGlyphs" x="56.6" y="184.65">0.2</text>
<text font-size="13.6" text-anchor="end" textLength="7.5" lengthAdjust="spacingAndGlyphs" x="56.6" y="228.05">0</text>
<text font-size="13.6" text-anchor="end" textLength="22.8" lengthAdjust="spacingAndGlyphs" x="56.6" y="271.45">-0.2</text>
<text font-size="13.6" text-anchor="middle" textLength="7.5" lengthAdjust="spacingAndGlyphs" x="67.3" y="284.9">0</text>
<text font-size="13.6" text-anchor="middle" textLength="18" lengthAdjust="spacingAndGlyphs" x="103.86" y="284.9">0.1</text>
<text font-size="13.6" text-anchor="middle" textLength="18" lengthAdjust="spacingAndGlyphs" x="140.43" y="284.9">0.2</text>
<text font-size="13.6" text-anchor="middle" textLength="18" lengthAdjust="spacingAndGlyphs" x="177" y="284.9">0.3</text>
<text font-size="13.6" text-anchor="middle" textLength="18" lengthAdjust="spacingAndGlyphs" x="213.56" y="284.9">0.4</text>
<text font-size="13.6" text-anchor="middle" textLength="18" lengthAdjust="spacingAndGlyphs" x="250.12" y="284.9">0.5</text>
<text font-size="13.6" text-anchor="middle" textLength="18" lengthAdjust="spacingAndGlyphs" x="286.69" y="284.9">0.6</text>
<text font-size="13.6" text-anchor="middle" textLength="18" lengthAdjust="spacingAndGlyphs" x="323.25" y="284.9">0.7</text>
<text font-size="13.6" text-anchor="middle" textLength="18" lengthAdjust="spacingAndGlyphs" x="359.82" y="284.9">0.8</text>
<text font-size="13.6" text-anchor="middle" textLength="18" lengthAdjust="spacingAndGlyphs" x="396.38" y="284.9">0.9</text>
<text font-size="13.6" text-anchor="middle" x="432.65" y="284.9">1</text>
<text font-size="13.6" text-anchor="middle" textLength="69.5" lengthAdjust="spacingAndGlyphs" x="248" y="306">Distance, <tspan font-style="italic">x</tspan></text>
<text font-size="13.6" text-anchor="start" textLength="142.3" lengthAdjust="spacingAndGlyphs" transform="translate(11.0 238.2) rotate(-90)">Normalized correlation,</text>
<text font-size="13.6" text-anchor="start" textLength="45.6" lengthAdjust="spacingAndGlyphs" transform="translate(11.0 86.9) rotate(-90)"><tspan font-style="italic">t</tspan>(<tspan font-style="italic">x</tspan>)<tspan font-style="italic">t</tspan>(0)</text>
<path d="M2.2 87.9 L7.7 91.9 L13.3 87.9 M2.2 40.3 L7.7 36.3 L13.3 40.3" fill="none" stroke="#444444" stroke-width="0.75"/>
<text font-size="13.6" text-anchor="end" textLength="42.2" lengthAdjust="spacingAndGlyphs" x="368.2" y="22.1"><tspan font-style="italic">L</tspan> = 50</text>
<text font-size="13.6" text-anchor="end" textLength="49.3" lengthAdjust="spacingAndGlyphs" x="368.2" y="36.1"><tspan font-style="italic">L</tspan> = 100</text>
<text font-size="13.6" text-anchor="end" textLength="49.3" lengthAdjust="spacingAndGlyphs" x="368.2" y="50.1"><tspan font-style="italic">L</tspan> = 200</text>
<text font-size="9.2" text-anchor="middle" textLength="12" lengthAdjust="spacingAndGlyphs" x="113.6" y="42.3">0.1</text>
<text font-size="9.2" text-anchor="middle" textLength="16.6" lengthAdjust="spacingAndGlyphs" x="113.6" y="60">0.01</text>
<text font-size="9.2" text-anchor="middle" textLength="21.6" lengthAdjust="spacingAndGlyphs" x="113.6" y="77.7">0.001</text>
<text font-size="9.2" text-anchor="middle" textLength="25.8" lengthAdjust="spacingAndGlyphs" x="113.6" y="95.4">0.0001</text>
<text font-size="9.2" text-anchor="middle" textLength="21.4" lengthAdjust="spacingAndGlyphs" x="113.6" y="113.1">1e-05</text>
<text font-size="9.2" text-anchor="middle" textLength="21.4" lengthAdjust="spacingAndGlyphs" x="113.6" y="130.8">1e-06</text>
<text font-size="9.2" text-anchor="middle" textLength="21.4" lengthAdjust="spacingAndGlyphs" x="113.6" y="148.5">1e-07</text>
<text font-size="14.0" text-anchor="middle" textLength="6.6" lengthAdjust="spacingAndGlyphs" x="131.3" y="164.5">1</text>
<text font-size="14.0" text-anchor="middle" textLength="13" lengthAdjust="spacingAndGlyphs" x="191.17" y="164.5">10</text>
<text font-size="14.0" text-anchor="middle" textLength="19.2" lengthAdjust="spacingAndGlyphs" x="251.05" y="164.5">100</text>
<text font-size="14.8" text-anchor="middle" textLength="95" lengthAdjust="spacingAndGlyphs" x="211.9" y="176.8">Coupling value, <tspan font-style="italic">t</tspan></text>
<text font-size="14.6" text-anchor="middle" textLength="58" lengthAdjust="spacingAndGlyphs" transform="translate(93.1 92) rotate(-90)">Frequency</text>
<text font-size="8.8" text-anchor="middle" textLength="13.6" lengthAdjust="spacingAndGlyphs" x="178" y="98.6">100</text>
<text font-size="8.8" text-anchor="middle" textLength="13.6" lengthAdjust="spacingAndGlyphs" x="178" y="105.6">500</text>
<text font-size="8.8" text-anchor="middle" textLength="17.8" lengthAdjust="spacingAndGlyphs" x="178" y="112.7">1000</text>
</g>
</svg>
</body></html>
